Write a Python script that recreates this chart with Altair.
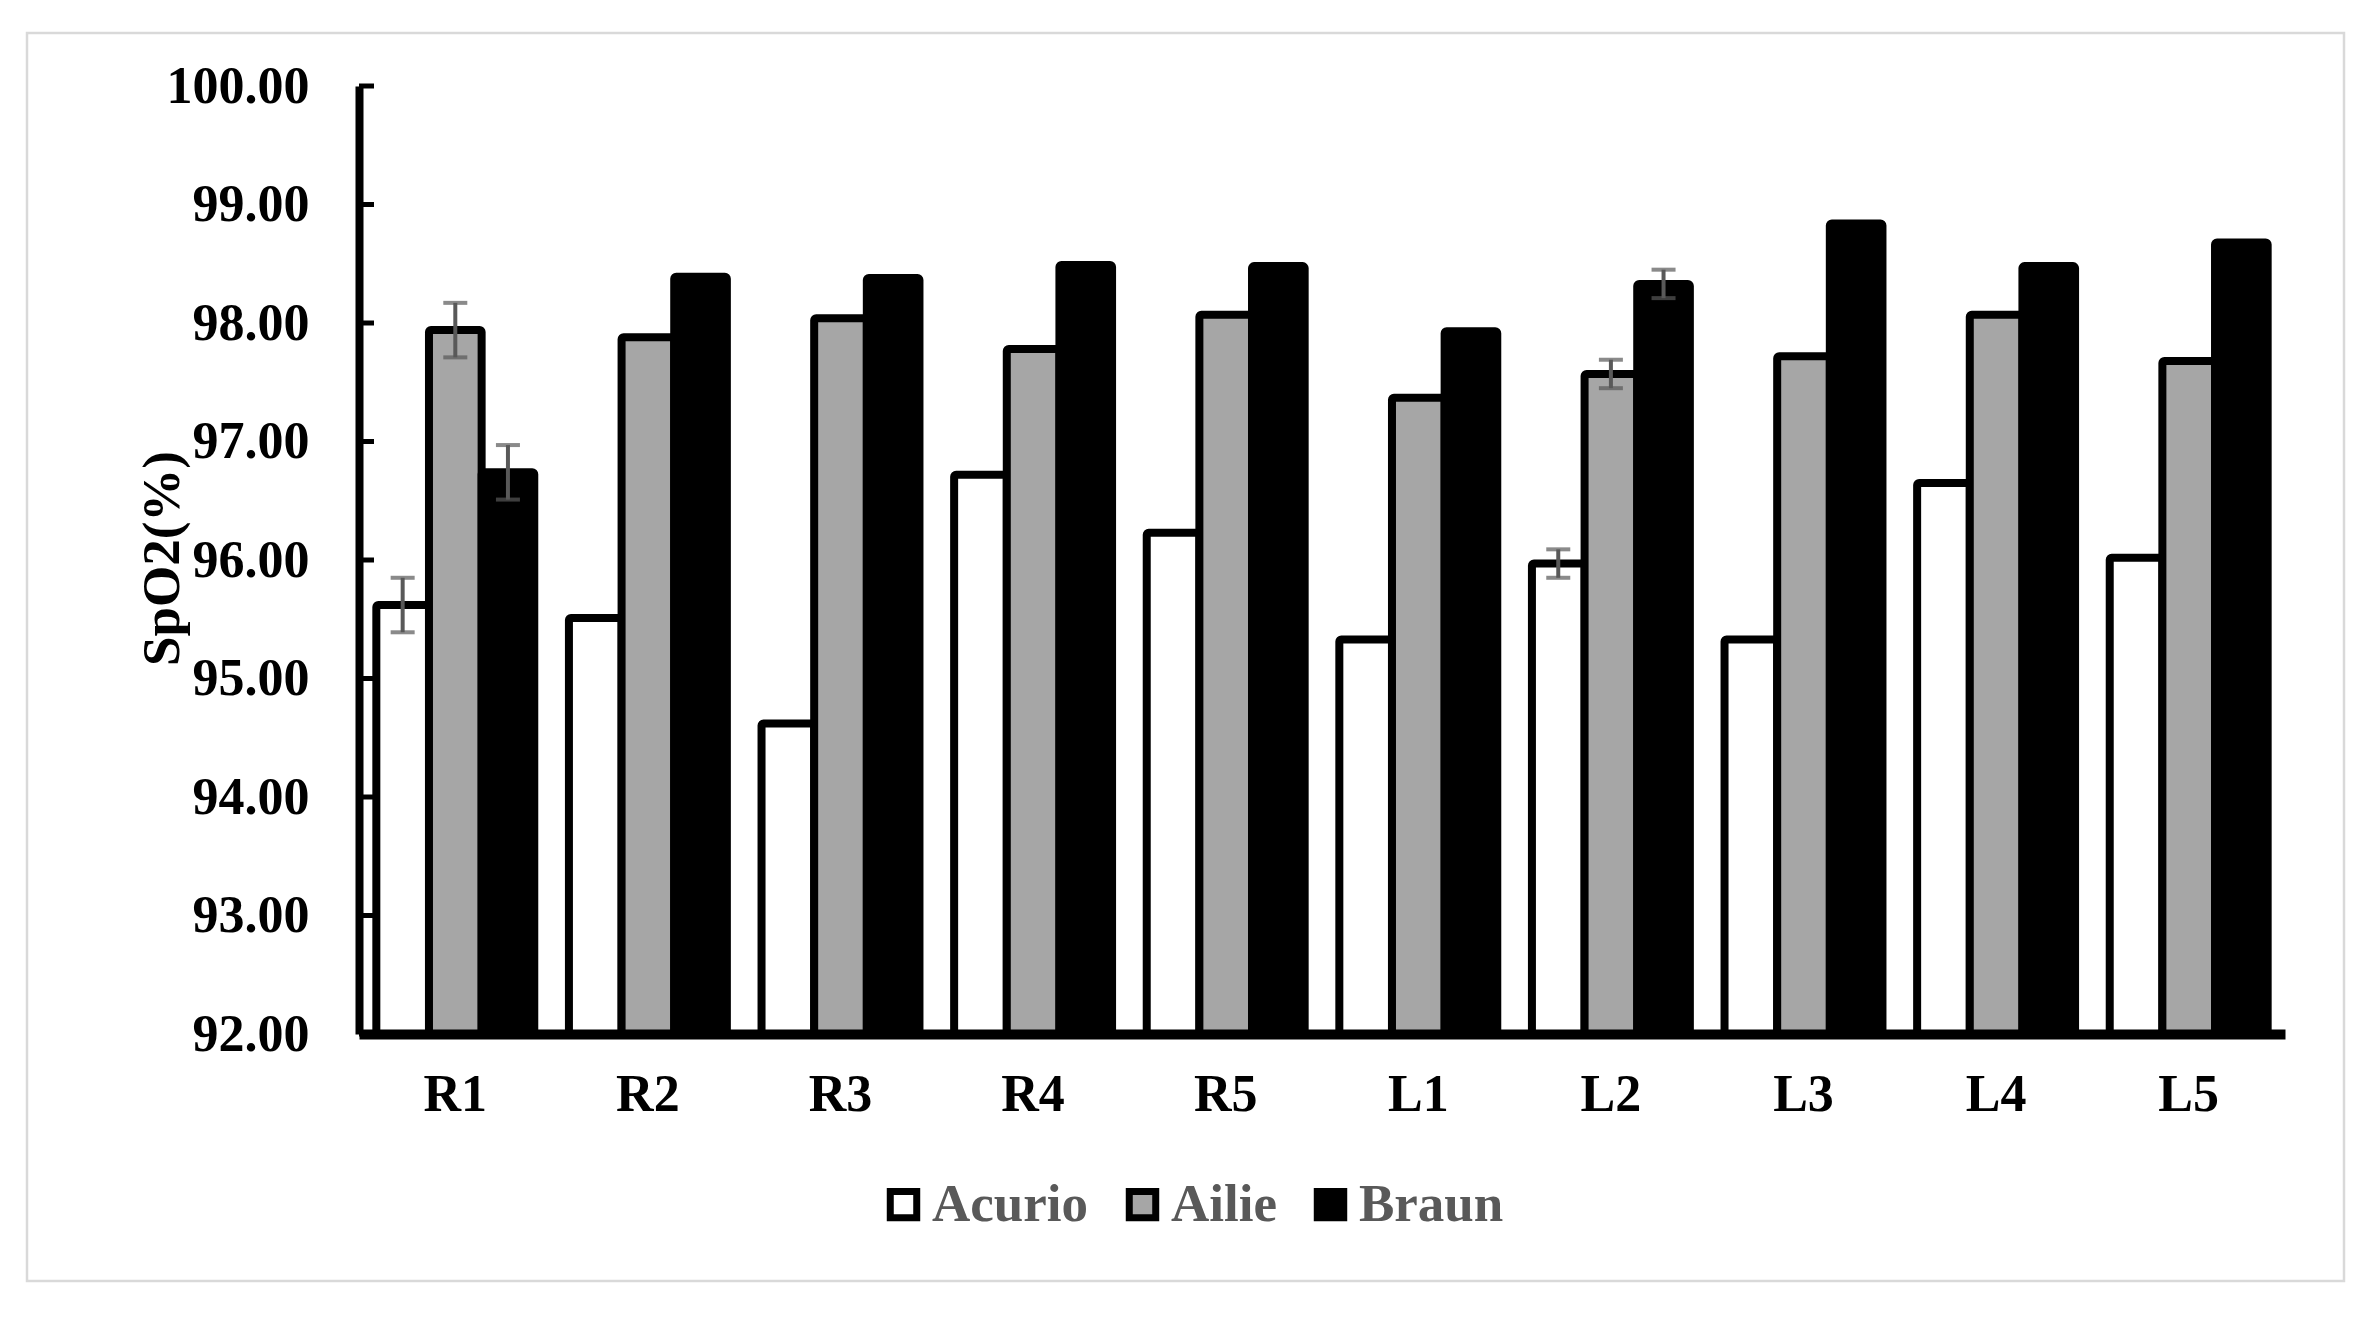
import altair as alt
import pandas as pd

categories = ["R1", "R2", "R3", "R4", "R5", "L1", "L2", "L3", "L4", "L5"]
series = ["Acurio", "Ailie", "Braun"]
acurio = [95.62, 95.51, 94.62, 96.72, 96.23, 95.33, 95.97, 95.33, 96.65, 96.02]
ailie = [97.94, 97.88, 98.04, 97.78, 98.07, 97.37, 97.57, 97.72, 98.07, 97.68]
braun = [96.74, 98.39, 98.38, 98.49, 98.48, 97.93, 98.33, 98.84, 98.48, 98.68]
acurio_err = [0.23, 0, 0, 0, 0, 0, 0.12, 0, 0, 0]
ailie_err = [0.23, 0, 0, 0, 0, 0, 0.12, 0, 0, 0]
braun_err = [0.23, 0, 0, 0, 0, 0, 0.12, 0, 0, 0]
y_ticks = [92, 93, 94, 95, 96, 97, 98, 99, 100]
colors = ["#ffffff", "#a6a6a6", "#000000"]

rows = []
for name, vals, errs in [("Acurio", acurio, acurio_err), ("Ailie", ailie, ailie_err), ("Braun", braun, braun_err)]:
    for c, v, e in zip(categories, vals, errs):
        rows.append({"cat": c, "series": name, "value": v, "err": e, "lo": v - e, "hi": v + e})
df = pd.DataFrame(rows)
err_df = df[df["err"] > 0]
tick_df = pd.DataFrame({"t": y_ticks})

FONT = "Liberation Serif"
TITLE = "SpO2(%)"

xenc = alt.X("cat:N", sort=categories, title=None,
             scale=alt.Scale(paddingInner=0.18, paddingOuter=0.09),
             axis=alt.Axis(labelFont=FONT, labelFontSize=52, labelFontWeight="bold",
                           labelColor="black", labelAngle=0, labelPadding=35,
                           ticks=False, domainColor="black", domainWidth=10,
                           zindex=2))
xoff = alt.XOffset("series:N", sort=series,
                   scale=alt.Scale(domain=series, paddingInner=0, paddingOuter=0))
yscale = alt.Scale(domain=[92, 100], nice=False, zero=False)

frame = alt.Chart(alt.Data(values=[{}])).mark_rect(
    fill=None, stroke="#d9d9d9", strokeWidth=2.5
).encode(x=alt.value(-332), x2=alt.value(1985), y=alt.value(-53), y2=alt.value(1195))

bars = alt.Chart(df).mark_bar(
    stroke="black", strokeWidth=8, strokeJoin="round", cornerRadius=2
).encode(
    x=xenc,
    xOffset=xoff,
    y=alt.Y("value:Q", scale=yscale, title=TITLE,
            axis=alt.Axis(values=y_ticks, format=".2f", labelFont=FONT, labelFontSize=52,
                          labelFontWeight="bold", labelColor="black", labelPadding=50,
                          ticks=False, grid=False, domainColor="black", domainWidth=8,
                          titleFont=FONT, titleFontSize=53, titleFontWeight="bold",
                          titleColor="black", titleAngle=-90, titleX=-197, titleY=472,
                          titleAlign="center", titleBaseline="middle", zindex=2)),
    y2=alt.datum(92),
    color=alt.Color("series:N", sort=series,
                    scale=alt.Scale(domain=series, range=colors),
                    legend=alt.Legend(title=None, orient="none", direction="horizontal",
                                      legendX=518, legendY=1092, padding=0,
                                      symbolType="square", symbolSize=700,
                                      symbolStrokeColor="black", symbolStrokeWidth=7,
                                      labelFont=FONT, labelFontSize=53, labelFontWeight="bold",
                                      labelColor="#595959", labelOffset=2,
                                      columnPadding=26)),
)

err_rule = alt.Chart(err_df).mark_rule(color="#595959", strokeWidth=4).encode(
    x=alt.X("cat:N", sort=categories),
    xOffset=xoff,
    y=alt.Y("lo:Q", scale=yscale, title=TITLE),
    y2="hi:Q",
)
cap_lo = alt.Chart(err_df).mark_tick(color="#595959", thickness=4, size=24, orient="horizontal").encode(
    x=alt.X("cat:N", sort=categories), xOffset=xoff,
    y=alt.Y("lo:Q", scale=yscale, title=TITLE),
)
cap_hi = alt.Chart(err_df).mark_tick(color="#595959", thickness=4, size=24, orient="horizontal").encode(
    x=alt.X("cat:N", sort=categories), xOffset=xoff,
    y=alt.Y("hi:Q", scale=yscale, title=TITLE),
)

yticks = alt.Chart(tick_df).mark_rule(color="black", strokeWidth=5).encode(
    y=alt.Y("t:Q", scale=yscale, title=TITLE),
    x=alt.value(0), x2=alt.value(15),
)

chart = alt.layer(frame, bars, err_rule, cap_lo, cap_hi, yticks).properties(
    width=1926, height=948,
    padding={"left": 351, "top": 78, "right": 80, "bottom": 265},
    autosize=alt.AutoSizeParams(type="none"),
).configure_view(stroke=None)

chart.save("out.html", embed_options={"renderer": "svg", "actions": False})
